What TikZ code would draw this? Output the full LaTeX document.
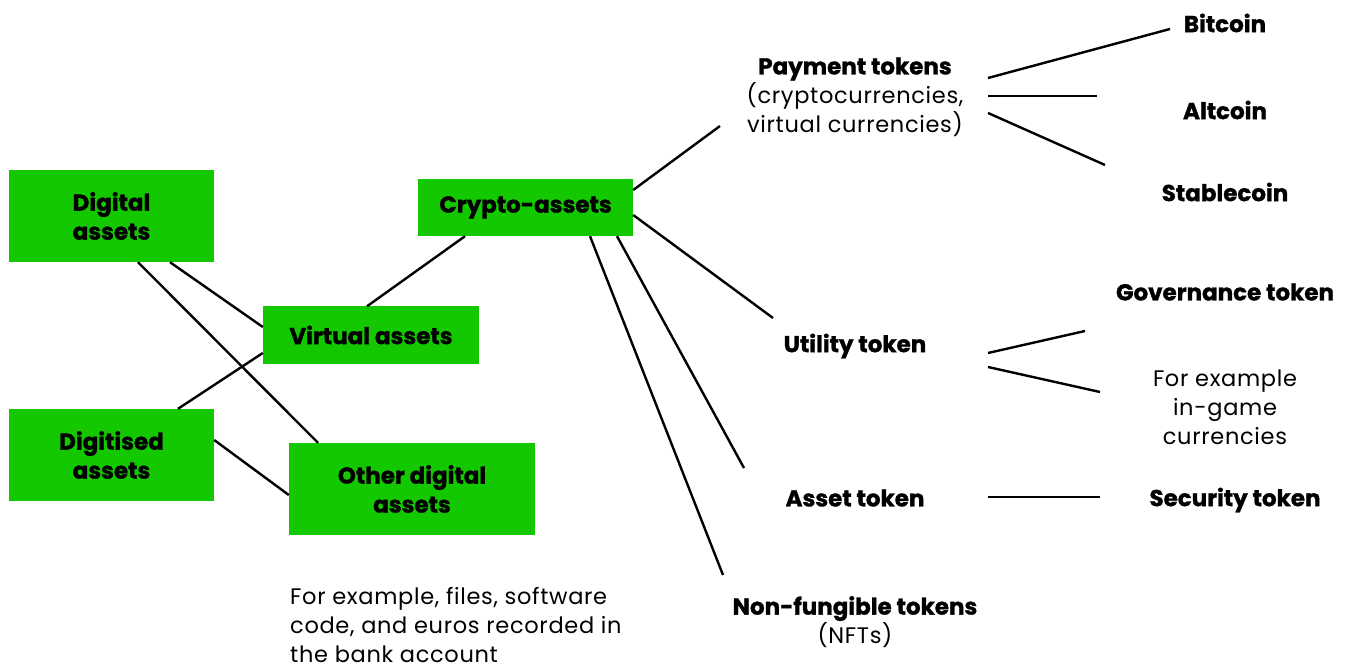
\documentclass[tikz,border=0pt]{standalone}
\usepackage{fontspec}
\setmainfont{Poppins}[LetterSpace=3, BoldFeatures={FakeBold=1.2, LetterSpace=0}]
\usetikzlibrary{positioning}
\definecolor{assetgreen}{HTML}{14C800}

\begin{document}
\begin{tikzpicture}[
    x=1pt, y=-1pt,
    font=\fontsize{22.5}{29}\selectfont,
    box/.style={
        fill=assetgreen,
        align=center,
        inner sep=0pt,
        font=\fontsize{23}{29}\selectfont\bfseries
    },
    head/.style={
        align=center,
        inner sep=0pt,
        font=\fontsize{23}{29}\selectfont\bfseries
    },
    note/.style={
        align=center,
        inner sep=0pt
    },
    link/.style={
        line width=2.4pt
    }
]
\useasboundingbox (0,0) rectangle (1349,668);

% green boxes
\node[box, minimum width=205pt, minimum height=92pt] (digital) at (111.5,216) {Digital\\assets};
\node[box, minimum width=205pt, minimum height=92pt] (digitised) at (111.5,455) {Digitised\\assets};
\node[box, minimum width=216pt, minimum height=57pt] (virtual) at (371,335) {Virtual assets};
\node[box, minimum width=246pt, minimum height=92pt] (other) at (412,489) {Other digital\\assets};
\node[box, minimum width=215pt, minimum height=57pt] (crypto) at (525.5,207.5) {Crypto-assets};

% token types
\node[note] (payment) at (855,97) {{\fontsize{23}{29}\selectfont\bfseries Payment tokens}\\(cryptocurrencies,\\virtual currencies)};
\node[head] (utility) at (855,346) {Utility token};
\node[head] (asset) at (855,498) {Asset token};
\node[note] (nft) at (855,622) {{\fontsize{23}{29}\selectfont\bfseries Non-fungible tokens}\\(NFTs)};

% examples
\node[head] (bitcoin) at (1225,23) {Bitcoin};
\node[head] (altcoin) at (1225,110) {Altcoin};
\node[head] (stable) at (1225,192) {Stablecoin};
\node[head] (governance) at (1225,292) {Governance token};
\node[note] (ingame) at (1225,407) {For example\\in-game\\currencies};
\node[head] (security) at (1235,500) {Security token};

\node[note, align=left, anchor=north west] (files) at (290,587)
    {For example, files, software\\code, and euros recorded in\\the bank account};

% free line ends
\coordinate (pay-in) at (720,126);
\coordinate (util-in) at (773,318);
\coordinate (asset-in) at (744,468);
\coordinate (nft-in) at (723,575);
\coordinate (pay-out1) at (988,78);
\coordinate (pay-out2) at (988,96);
\coordinate (pay-out3) at (988,113);
\coordinate (util-out1) at (988,353);
\coordinate (util-out2) at (988,367);
\coordinate (asset-out) at (988,497);
\coordinate (btc-in) at (1170,29);
\coordinate (alt-in) at (1097,96);
\coordinate (stable-in) at (1105,165);
\coordinate (gov-in) at (1085,331);
\coordinate (game-in) at (1100,392);
\coordinate (sec-in) at (1100,497);

\draw[link] ([xshift=58.5pt]digital.south) -- ([yshift=8pt]virtual.west);
\draw[link] ([xshift=26.5pt]digital.south) -- ([xshift=-94pt]other.north);
\draw[link] ([xshift=66.5pt]digitised.north) -- ([yshift=-18pt]virtual.west);
\draw[link] ([yshift=15pt]digitised.east) -- ([yshift=-6pt]other.west);
\draw[link] ([xshift=-4pt]virtual.north) -- ([xshift=-60.5pt]crypto.south);

\draw[link] ([yshift=17.5pt]crypto.east) -- (pay-in);
\draw[link] ([yshift=-7.5pt]crypto.east) -- (util-in);
\draw[link] ([xshift=91.5pt]crypto.south) -- (asset-in);
\draw[link] ([xshift=64.5pt]crypto.south) -- (nft-in);

\draw[link] (pay-out1) -- (btc-in);
\draw[link] (pay-out2) -- (alt-in);
\draw[link] (pay-out3) -- (stable-in);
\draw[link] (util-out1) -- (gov-in);
\draw[link] (util-out2) -- (game-in);
\draw[link] (asset-out) -- (sec-in);

\end{tikzpicture}
\end{document}
